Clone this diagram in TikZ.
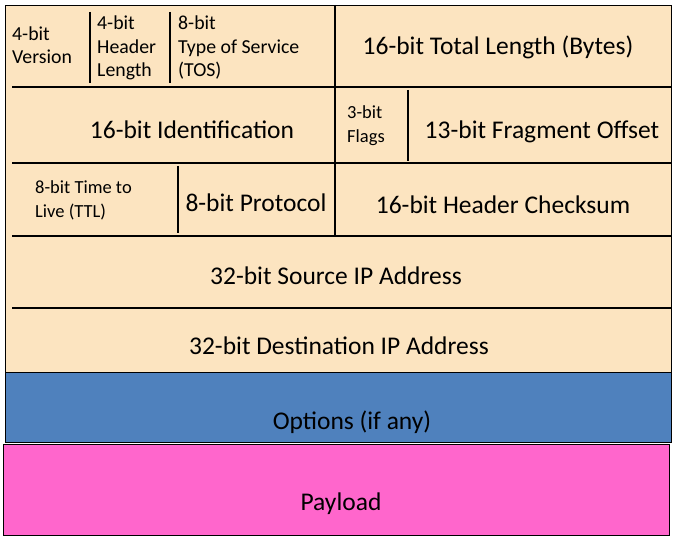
\documentclass[tikz,border=0pt]{standalone}
\usepackage{fontspec}
\setmainfont{Carlito}
\usetikzlibrary{positioning}
\definecolor{cHeader}  {HTML}{FCE4C0}
\definecolor{cOptions} {HTML}{4F81BD}
\definecolor{cPayload} {HTML}{FF66CC}

\tikzset{
  rule/.style={line width=2pt},
  frame/.style={line width=0.9pt},
  bigfield/.style={font=\fontsize{25.5}{30}\selectfont, inner sep=0pt},
  smallfield/.style={font=\fontsize{19.8}{23.5}\selectfont, align=left, anchor=west, inner sep=0pt},
  tinyfield/.style={font=\fontsize{18.5}{24}\selectfont, align=left, anchor=west, inner sep=0pt},
}

\begin{document}
\begin{tikzpicture}[x=1pt, y=-1pt]
  \useasboundingbox (0,0) rectangle (674,540);
  % blocks
  \draw[frame, fill=cHeader] (5,5) rectangle (671,372);
  \draw[frame, fill=cOptions] (5,372) rectangle (671,442);
  \draw[frame, fill=cPayload] (3,444) rectangle (669,535);
  % row rules
  \draw[rule] (12,87) -- (671,87);
  \draw[rule] (12,163) -- (671,163);
  \draw[rule] (12,236) -- (671,236);
  \draw[rule] (12,308) -- (671,308);
  % column rules
  \draw[rule] (90,12) -- (90,83);
  \draw[rule] (170,12) -- (170,83);
  \draw[rule] (335,5) -- (335,236);
  \draw[rule] (408,90) -- (408,161);
  \draw[rule] (178,166) -- (178,233);

  % row 1
  \node[smallfield] (ver) at (12,45) {4-bit\\Version};
  \node[smallfield] (ihl) at (97,48) {4-bit\\Header\\Length};
  \node[smallfield] (tos) at (178,48) {8-bit\\Type of Service\\(TOS)};
  \node[bigfield] (len) at (498,47) {16-bit Total Length (Bytes)};
  % row 2
  \node[bigfield] (ident) at (192,130) {16-bit Identification};
  \node[tinyfield] (flags) at (347,126) {3-bit\\Flags};
  \node[bigfield] (frag) at (542,132) {13-bit Fragment Offset};
  % row 3
  \node[tinyfield] (ttl) at (35,200) {8-bit Time to\\Live (TTL)};
  \node[bigfield] (proto) at (256,203) {8-bit Protocol};
  \node[bigfield] (csum) at (503,205) {16-bit Header Checksum};
  % addresses
  \node[bigfield] (src) at (336,276) {32-bit Source IP Address};
  \node[bigfield] (dst) at (339,346) {32-bit Destination IP Address};
  % options, payload
  \node[bigfield] (opt) at (352,422) {Options (if any)};
  \node[bigfield] (pay) at (341,504) {Payload};
\end{tikzpicture}
\end{document}
